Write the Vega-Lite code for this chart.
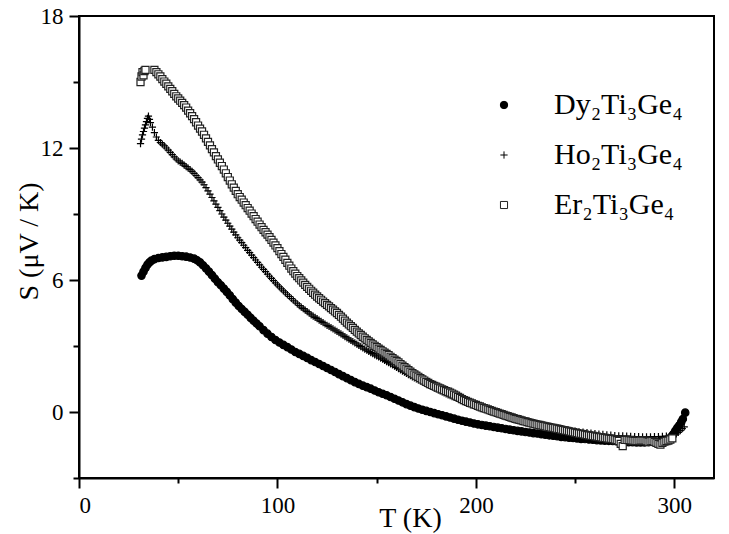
{
  "$schema": "https://vega.github.io/schema/vega-lite/v6.json",
  "width": 635,
  "height": 462,
  "autosize": {"type": "none"},
  "padding": {"left": 79, "top": 16, "right": 15, "bottom": 56},
  "background": "white",
  "config": {
    "view": {"stroke": "black", "strokeWidth": 2},
    "font": "Liberation Serif, Times New Roman, serif",
    "legend": {
      "orient": "none", "legendX": 410, "legendY": 74,
      "padding": 0, "rowPadding": 20, "labelOffset": 35, "symbolStrokeWidth": 1,
      "labelFont": "Liberation Serif, Times New Roman, serif", "labelFontSize": 30, "labelColor": "black"
    }
  },
  "data": {"values": [
    {"s":"Dy","T":31.5,"S":6.2},{"s":"Dy","T":32.5,"S":6.38},{"s":"Dy","T":33.5,"S":6.55},{"s":"Dy","T":34.5,"S":6.7},{"s":"Dy","T":35.5,"S":6.8},{"s":"Dy","T":36.5,"S":6.88},{"s":"Dy","T":38,"S":6.95},{"s":"Dy","T":40,"S":7.0},{"s":"Dy","T":42,"S":7.03},{"s":"Dy","T":44,"S":7.05},{"s":"Dy","T":46,"S":7.08},{"s":"Dy","T":48,"S":7.1},{"s":"Dy","T":50,"S":7.1},{"s":"Dy","T":52,"S":7.08},{"s":"Dy","T":54,"S":7.06},{"s":"Dy","T":56,"S":7.02},{"s":"Dy","T":58,"S":6.97},{"s":"Dy","T":59.5,"S":6.9},{"s":"Dy","T":61,"S":6.8},{"s":"Dy","T":62.5,"S":6.67},{"s":"Dy","T":64,"S":6.53},{"s":"Dy","T":65.5,"S":6.38},{"s":"Dy","T":67,"S":6.22},{"s":"Dy","T":68.5,"S":6.06},{"s":"Dy","T":70,"S":5.9},{"s":"Dy","T":71.5,"S":5.76},{"s":"Dy","T":73,"S":5.61},{"s":"Dy","T":74.5,"S":5.46},{"s":"Dy","T":76,"S":5.3},{"s":"Dy","T":77.5,"S":5.13},{"s":"Dy","T":79,"S":4.97},{"s":"Dy","T":80.5,"S":4.82},{"s":"Dy","T":82,"S":4.68},{"s":"Dy","T":83.5,"S":4.55},{"s":"Dy","T":85,"S":4.42},{"s":"Dy","T":86.5,"S":4.28},{"s":"Dy","T":88,"S":4.15},{"s":"Dy","T":89.5,"S":4.02},{"s":"Dy","T":91,"S":3.9},{"s":"Dy","T":93,"S":3.72},{"s":"Dy","T":95,"S":3.56},{"s":"Dy","T":97,"S":3.41},{"s":"Dy","T":99,"S":3.27},{"s":"Dy","T":101,"S":3.16},{"s":"Dy","T":103,"S":3.05},{"s":"Dy","T":105,"S":2.95},{"s":"Dy","T":107,"S":2.84},{"s":"Dy","T":109,"S":2.73},{"s":"Dy","T":111,"S":2.64},{"s":"Dy","T":113,"S":2.55},{"s":"Dy","T":115,"S":2.46},{"s":"Dy","T":117,"S":2.36},{"s":"Dy","T":119,"S":2.27},{"s":"Dy","T":121,"S":2.18},{"s":"Dy","T":123,"S":2.09},{"s":"Dy","T":125,"S":2.0},{"s":"Dy","T":127,"S":1.91},{"s":"Dy","T":129,"S":1.82},{"s":"Dy","T":131,"S":1.72},{"s":"Dy","T":133,"S":1.63},{"s":"Dy","T":135,"S":1.54},{"s":"Dy","T":137,"S":1.45},{"s":"Dy","T":139,"S":1.36},{"s":"Dy","T":141,"S":1.28},{"s":"Dy","T":143,"S":1.2},{"s":"Dy","T":145,"S":1.13},{"s":"Dy","T":147,"S":1.06},{"s":"Dy","T":149,"S":0.98},{"s":"Dy","T":151,"S":0.9},{"s":"Dy","T":153,"S":0.83},{"s":"Dy","T":155,"S":0.76},{"s":"Dy","T":157,"S":0.68},{"s":"Dy","T":159,"S":0.6},{"s":"Dy","T":161,"S":0.52},{"s":"Dy","T":163,"S":0.44},{"s":"Dy","T":165,"S":0.36},{"s":"Dy","T":167,"S":0.29},{"s":"Dy","T":169,"S":0.22},{"s":"Dy","T":171,"S":0.16},{"s":"Dy","T":173,"S":0.1},{"s":"Dy","T":175,"S":0.05},{"s":"Dy","T":177,"S":0.0},{"s":"Dy","T":179,"S":-0.05},{"s":"Dy","T":181,"S":-0.1},{"s":"Dy","T":183,"S":-0.15},{"s":"Dy","T":185,"S":-0.2},{"s":"Dy","T":187,"S":-0.25},{"s":"Dy","T":189,"S":-0.3},{"s":"Dy","T":191,"S":-0.35},{"s":"Dy","T":193,"S":-0.4},{"s":"Dy","T":195,"S":-0.44},{"s":"Dy","T":197,"S":-0.48},{"s":"Dy","T":199,"S":-0.52},{"s":"Dy","T":201,"S":-0.56},{"s":"Dy","T":203,"S":-0.59},{"s":"Dy","T":205,"S":-0.62},{"s":"Dy","T":207,"S":-0.65},{"s":"Dy","T":209,"S":-0.68},{"s":"Dy","T":211,"S":-0.71},{"s":"Dy","T":213,"S":-0.74},{"s":"Dy","T":215,"S":-0.77},{"s":"Dy","T":217,"S":-0.8},{"s":"Dy","T":219,"S":-0.83},{"s":"Dy","T":221,"S":-0.86},{"s":"Dy","T":223,"S":-0.88},{"s":"Dy","T":225,"S":-0.91},{"s":"Dy","T":227,"S":-0.93},{"s":"Dy","T":229,"S":-0.96},{"s":"Dy","T":231,"S":-0.98},{"s":"Dy","T":233,"S":-1.01},{"s":"Dy","T":235,"S":-1.03},{"s":"Dy","T":237,"S":-1.06},{"s":"Dy","T":239,"S":-1.08},{"s":"Dy","T":241,"S":-1.1},{"s":"Dy","T":243,"S":-1.13},{"s":"Dy","T":245,"S":-1.15},{"s":"Dy","T":247,"S":-1.17},{"s":"Dy","T":249,"S":-1.18},{"s":"Dy","T":251,"S":-1.2},{"s":"Dy","T":253,"S":-1.22},{"s":"Dy","T":255,"S":-1.23},{"s":"Dy","T":257,"S":-1.25},{"s":"Dy","T":259,"S":-1.26},{"s":"Dy","T":261,"S":-1.28},{"s":"Dy","T":263,"S":-1.29},{"s":"Dy","T":265,"S":-1.3},{"s":"Dy","T":267,"S":-1.31},{"s":"Dy","T":269,"S":-1.32},{"s":"Dy","T":271,"S":-1.33},{"s":"Dy","T":273,"S":-1.35},{"s":"Dy","T":275,"S":-1.36},{"s":"Dy","T":277,"S":-1.37},{"s":"Dy","T":279,"S":-1.37},{"s":"Dy","T":281,"S":-1.38},{"s":"Dy","T":283,"S":-1.38},{"s":"Dy","T":285,"S":-1.38},{"s":"Dy","T":287,"S":-1.37},{"s":"Dy","T":289,"S":-1.36},{"s":"Dy","T":291,"S":-1.35},{"s":"Dy","T":293,"S":-1.33},{"s":"Dy","T":295,"S":-1.29},{"s":"Dy","T":297,"S":-1.22},{"s":"Dy","T":298.5,"S":-1.12},{"s":"Dy","T":299.5,"S":-1.0},{"s":"Dy","T":300.5,"S":-0.85},{"s":"Dy","T":301.5,"S":-0.72},{"s":"Dy","T":302.5,"S":-0.6},{"s":"Dy","T":303.5,"S":-0.45},{"s":"Dy","T":304.3,"S":-0.32},{"s":"Dy","T":305.5,"S":-0.03},
    {"s":"Ho","T":31,"S":12.2},{"s":"Ho","T":31.5,"S":12.4},{"s":"Ho","T":32,"S":12.6},{"s":"Ho","T":32.5,"S":12.75},{"s":"Ho","T":33,"S":12.9},{"s":"Ho","T":33.5,"S":13.05},{"s":"Ho","T":34,"S":13.2},{"s":"Ho","T":34.5,"S":13.35},{"s":"Ho","T":35,"S":13.45},{"s":"Ho","T":35.5,"S":13.3},{"s":"Ho","T":36,"S":13.15},{"s":"Ho","T":37,"S":12.95},{"s":"Ho","T":38,"S":12.7},{"s":"Ho","T":39,"S":12.5},{"s":"Ho","T":40,"S":12.35},{"s":"Ho","T":41,"S":12.25},{"s":"Ho","T":42,"S":12.18},{"s":"Ho","T":43,"S":12.1},{"s":"Ho","T":44,"S":12.0},{"s":"Ho","T":45,"S":11.9},{"s":"Ho","T":46,"S":11.8},{"s":"Ho","T":47,"S":11.7},{"s":"Ho","T":48,"S":11.6},{"s":"Ho","T":49,"S":11.5},{"s":"Ho","T":50,"S":11.42},{"s":"Ho","T":51,"S":11.36},{"s":"Ho","T":52,"S":11.3},{"s":"Ho","T":53,"S":11.22},{"s":"Ho","T":54,"S":11.15},{"s":"Ho","T":55,"S":11.08},{"s":"Ho","T":56,"S":11.02},{"s":"Ho","T":57,"S":10.94},{"s":"Ho","T":58,"S":10.85},{"s":"Ho","T":59,"S":10.75},{"s":"Ho","T":60,"S":10.65},{"s":"Ho","T":61,"S":10.55},{"s":"Ho","T":62,"S":10.45},{"s":"Ho","T":63,"S":10.33},{"s":"Ho","T":64,"S":10.2},{"s":"Ho","T":65,"S":10.05},{"s":"Ho","T":66,"S":9.9},{"s":"Ho","T":67,"S":9.75},{"s":"Ho","T":68,"S":9.6},{"s":"Ho","T":69,"S":9.45},{"s":"Ho","T":70,"S":9.3},{"s":"Ho","T":71,"S":9.15},{"s":"Ho","T":72,"S":9.0},{"s":"Ho","T":73,"S":8.86},{"s":"Ho","T":74,"S":8.72},{"s":"Ho","T":75,"S":8.58},{"s":"Ho","T":76,"S":8.45},{"s":"Ho","T":77,"S":8.31},{"s":"Ho","T":78,"S":8.18},{"s":"Ho","T":79,"S":8.05},{"s":"Ho","T":80,"S":7.92},{"s":"Ho","T":81,"S":7.81},{"s":"Ho","T":82,"S":7.7},{"s":"Ho","T":83,"S":7.58},{"s":"Ho","T":84,"S":7.47},{"s":"Ho","T":85,"S":7.35},{"s":"Ho","T":86,"S":7.24},{"s":"Ho","T":87,"S":7.13},{"s":"Ho","T":88,"S":7.02},{"s":"Ho","T":89,"S":6.91},{"s":"Ho","T":90,"S":6.8},{"s":"Ho","T":91,"S":6.69},{"s":"Ho","T":92,"S":6.58},{"s":"Ho","T":93,"S":6.48},{"s":"Ho","T":94,"S":6.38},{"s":"Ho","T":95,"S":6.27},{"s":"Ho","T":96,"S":6.17},{"s":"Ho","T":97,"S":6.07},{"s":"Ho","T":98,"S":5.97},{"s":"Ho","T":99,"S":5.87},{"s":"Ho","T":100,"S":5.78},{"s":"Ho","T":101,"S":5.69},{"s":"Ho","T":102,"S":5.6},{"s":"Ho","T":103,"S":5.51},{"s":"Ho","T":104,"S":5.42},{"s":"Ho","T":105,"S":5.33},{"s":"Ho","T":106,"S":5.25},{"s":"Ho","T":107,"S":5.16},{"s":"Ho","T":108,"S":5.08},{"s":"Ho","T":109,"S":5.0},{"s":"Ho","T":110,"S":4.92},{"s":"Ho","T":111,"S":4.84},{"s":"Ho","T":112,"S":4.77},{"s":"Ho","T":113,"S":4.7},{"s":"Ho","T":114,"S":4.63},{"s":"Ho","T":115,"S":4.56},{"s":"Ho","T":116,"S":4.49},{"s":"Ho","T":117,"S":4.42},{"s":"Ho","T":118,"S":4.36},{"s":"Ho","T":119,"S":4.3},{"s":"Ho","T":120,"S":4.24},{"s":"Ho","T":121,"S":4.18},{"s":"Ho","T":122,"S":4.12},{"s":"Ho","T":123,"S":4.06},{"s":"Ho","T":124,"S":4.0},{"s":"Ho","T":125,"S":3.94},{"s":"Ho","T":126,"S":3.89},{"s":"Ho","T":127,"S":3.83},{"s":"Ho","T":128,"S":3.78},{"s":"Ho","T":129,"S":3.72},{"s":"Ho","T":130,"S":3.67},{"s":"Ho","T":131,"S":3.61},{"s":"Ho","T":132,"S":3.55},{"s":"Ho","T":133,"S":3.49},{"s":"Ho","T":134,"S":3.43},{"s":"Ho","T":135,"S":3.37},{"s":"Ho","T":136,"S":3.31},{"s":"Ho","T":137,"S":3.25},{"s":"Ho","T":138,"S":3.2},{"s":"Ho","T":139,"S":3.14},{"s":"Ho","T":140,"S":3.09},{"s":"Ho","T":141,"S":3.03},{"s":"Ho","T":142,"S":2.97},{"s":"Ho","T":143,"S":2.91},{"s":"Ho","T":144,"S":2.86},{"s":"Ho","T":145,"S":2.81},{"s":"Ho","T":146,"S":2.76},{"s":"Ho","T":147,"S":2.7},{"s":"Ho","T":148,"S":2.65},{"s":"Ho","T":149,"S":2.6},{"s":"Ho","T":150,"S":2.55},{"s":"Ho","T":151,"S":2.5},{"s":"Ho","T":152,"S":2.45},{"s":"Ho","T":153,"S":2.4},{"s":"Ho","T":154,"S":2.35},{"s":"Ho","T":155,"S":2.29},{"s":"Ho","T":156,"S":2.24},{"s":"Ho","T":157,"S":2.19},{"s":"Ho","T":158,"S":2.14},{"s":"Ho","T":159,"S":2.08},{"s":"Ho","T":160,"S":2.03},{"s":"Ho","T":161,"S":1.97},{"s":"Ho","T":162,"S":1.92},{"s":"Ho","T":163,"S":1.86},{"s":"Ho","T":164,"S":1.81},{"s":"Ho","T":165,"S":1.75},{"s":"Ho","T":166,"S":1.7},{"s":"Ho","T":167,"S":1.65},{"s":"Ho","T":168,"S":1.6},{"s":"Ho","T":169,"S":1.55},{"s":"Ho","T":170,"S":1.51},{"s":"Ho","T":171,"S":1.46},{"s":"Ho","T":172,"S":1.42},{"s":"Ho","T":173,"S":1.37},{"s":"Ho","T":174,"S":1.32},{"s":"Ho","T":175,"S":1.27},{"s":"Ho","T":176,"S":1.23},{"s":"Ho","T":177,"S":1.18},{"s":"Ho","T":178,"S":1.14},{"s":"Ho","T":179,"S":1.09},{"s":"Ho","T":180,"S":1.05},{"s":"Ho","T":181,"S":1.0},{"s":"Ho","T":182,"S":0.96},{"s":"Ho","T":183,"S":0.91},{"s":"Ho","T":184,"S":0.87},{"s":"Ho","T":185,"S":0.82},{"s":"Ho","T":186,"S":0.78},{"s":"Ho","T":187,"S":0.74},{"s":"Ho","T":188,"S":0.7},{"s":"Ho","T":189,"S":0.67},{"s":"Ho","T":190,"S":0.64},{"s":"Ho","T":191,"S":0.61},{"s":"Ho","T":192,"S":0.58},{"s":"Ho","T":193,"S":0.55},{"s":"Ho","T":194,"S":0.52},{"s":"Ho","T":195,"S":0.49},{"s":"Ho","T":196,"S":0.46},{"s":"Ho","T":197,"S":0.43},{"s":"Ho","T":198,"S":0.4},{"s":"Ho","T":200,"S":0.33},{"s":"Ho","T":202,"S":0.26},{"s":"Ho","T":204,"S":0.19},{"s":"Ho","T":206,"S":0.12},{"s":"Ho","T":208,"S":0.05},{"s":"Ho","T":210,"S":-0.02},{"s":"Ho","T":212,"S":-0.08},{"s":"Ho","T":214,"S":-0.14},{"s":"Ho","T":216,"S":-0.2},{"s":"Ho","T":218,"S":-0.25},{"s":"Ho","T":220,"S":-0.3},{"s":"Ho","T":222,"S":-0.35},{"s":"Ho","T":224,"S":-0.4},{"s":"Ho","T":226,"S":-0.45},{"s":"Ho","T":228,"S":-0.5},{"s":"Ho","T":230,"S":-0.54},{"s":"Ho","T":232,"S":-0.58},{"s":"Ho","T":234,"S":-0.62},{"s":"Ho","T":236,"S":-0.66},{"s":"Ho","T":238,"S":-0.7},{"s":"Ho","T":240,"S":-0.73},{"s":"Ho","T":242,"S":-0.76},{"s":"Ho","T":244,"S":-0.79},{"s":"Ho","T":246,"S":-0.82},{"s":"Ho","T":248,"S":-0.85},{"s":"Ho","T":250,"S":-0.87},{"s":"Ho","T":252,"S":-0.9},{"s":"Ho","T":254,"S":-0.92},{"s":"Ho","T":256,"S":-0.94},{"s":"Ho","T":258,"S":-0.96},{"s":"Ho","T":260,"S":-0.98},{"s":"Ho","T":262,"S":-1.0},{"s":"Ho","T":264,"S":-1.02},{"s":"Ho","T":266,"S":-1.04},{"s":"Ho","T":268,"S":-1.05},{"s":"Ho","T":270,"S":-1.07},{"s":"Ho","T":272,"S":-1.08},{"s":"Ho","T":274,"S":-1.09},{"s":"Ho","T":276,"S":-1.1},{"s":"Ho","T":278,"S":-1.11},{"s":"Ho","T":280,"S":-1.12},{"s":"Ho","T":282,"S":-1.12},{"s":"Ho","T":284,"S":-1.13},{"s":"Ho","T":286,"S":-1.13},{"s":"Ho","T":288,"S":-1.13},{"s":"Ho","T":290,"S":-1.12},{"s":"Ho","T":292,"S":-1.12},{"s":"Ho","T":294,"S":-1.11},{"s":"Ho","T":296,"S":-1.1},{"s":"Ho","T":298,"S":-1.08},{"s":"Ho","T":300,"S":-1.04},{"s":"Ho","T":301,"S":-1.0},{"s":"Ho","T":302,"S":-0.93},{"s":"Ho","T":303,"S":-0.85},{"s":"Ho","T":304,"S":-0.76},{"s":"Ho","T":305,"S":-0.68},
    {"s":"Er","T":31,"S":15.0},{"s":"Er","T":31.5,"S":15.25},{"s":"Er","T":32,"S":15.45},{"s":"Er","T":32.5,"S":15.3},{"s":"Er","T":33,"S":15.5},{"s":"Er","T":33.5,"S":15.55},{"s":"Er","T":38,"S":15.55},{"s":"Er","T":39,"S":15.45},{"s":"Er","T":40,"S":15.35},{"s":"Er","T":41,"S":15.25},{"s":"Er","T":42,"S":15.13},{"s":"Er","T":43,"S":15.02},{"s":"Er","T":44,"S":14.92},{"s":"Er","T":45,"S":14.8},{"s":"Er","T":46,"S":14.69},{"s":"Er","T":47,"S":14.58},{"s":"Er","T":48,"S":14.46},{"s":"Er","T":49,"S":14.35},{"s":"Er","T":50,"S":14.25},{"s":"Er","T":51,"S":14.15},{"s":"Er","T":52,"S":14.05},{"s":"Er","T":53,"S":13.95},{"s":"Er","T":54,"S":13.84},{"s":"Er","T":55,"S":13.7},{"s":"Er","T":56,"S":13.58},{"s":"Er","T":57,"S":13.45},{"s":"Er","T":58,"S":13.31},{"s":"Er","T":59,"S":13.17},{"s":"Er","T":60,"S":13.02},{"s":"Er","T":61,"S":12.88},{"s":"Er","T":62,"S":12.75},{"s":"Er","T":63,"S":12.6},{"s":"Er","T":64,"S":12.44},{"s":"Er","T":65,"S":12.28},{"s":"Er","T":66,"S":12.12},{"s":"Er","T":67,"S":11.95},{"s":"Er","T":68,"S":11.8},{"s":"Er","T":69,"S":11.63},{"s":"Er","T":70,"S":11.48},{"s":"Er","T":71,"S":11.33},{"s":"Er","T":72,"S":11.18},{"s":"Er","T":73,"S":11.02},{"s":"Er","T":74,"S":10.85},{"s":"Er","T":75,"S":10.68},{"s":"Er","T":76,"S":10.52},{"s":"Er","T":77,"S":10.35},{"s":"Er","T":78,"S":10.2},{"s":"Er","T":79,"S":10.05},{"s":"Er","T":80,"S":9.9},{"s":"Er","T":81,"S":9.77},{"s":"Er","T":82,"S":9.65},{"s":"Er","T":83,"S":9.52},{"s":"Er","T":84,"S":9.4},{"s":"Er","T":85,"S":9.27},{"s":"Er","T":86,"S":9.15},{"s":"Er","T":87,"S":9.02},{"s":"Er","T":88,"S":8.9},{"s":"Er","T":89,"S":8.77},{"s":"Er","T":90,"S":8.65},{"s":"Er","T":91,"S":8.52},{"s":"Er","T":92,"S":8.4},{"s":"Er","T":93,"S":8.28},{"s":"Er","T":94,"S":8.17},{"s":"Er","T":95,"S":8.06},{"s":"Er","T":96,"S":7.95},{"s":"Er","T":97,"S":7.82},{"s":"Er","T":98,"S":7.7},{"s":"Er","T":99,"S":7.57},{"s":"Er","T":100,"S":7.45},{"s":"Er","T":101,"S":7.31},{"s":"Er","T":102,"S":7.18},{"s":"Er","T":103,"S":7.05},{"s":"Er","T":104,"S":6.92},{"s":"Er","T":105,"S":6.78},{"s":"Er","T":106,"S":6.65},{"s":"Er","T":107,"S":6.52},{"s":"Er","T":108,"S":6.4},{"s":"Er","T":109,"S":6.29},{"s":"Er","T":110,"S":6.18},{"s":"Er","T":111,"S":6.08},{"s":"Er","T":112,"S":5.98},{"s":"Er","T":113,"S":5.88},{"s":"Er","T":114,"S":5.78},{"s":"Er","T":115,"S":5.69},{"s":"Er","T":116,"S":5.6},{"s":"Er","T":117,"S":5.51},{"s":"Er","T":118,"S":5.42},{"s":"Er","T":119,"S":5.33},{"s":"Er","T":120,"S":5.25},{"s":"Er","T":121,"S":5.17},{"s":"Er","T":122,"S":5.1},{"s":"Er","T":123,"S":5.02},{"s":"Er","T":124,"S":4.95},{"s":"Er","T":125,"S":4.87},{"s":"Er","T":126,"S":4.8},{"s":"Er","T":127,"S":4.72},{"s":"Er","T":128,"S":4.65},{"s":"Er","T":129,"S":4.57},{"s":"Er","T":130,"S":4.5},{"s":"Er","T":131,"S":4.41},{"s":"Er","T":132,"S":4.33},{"s":"Er","T":133,"S":4.24},{"s":"Er","T":134,"S":4.15},{"s":"Er","T":135,"S":4.06},{"s":"Er","T":136,"S":3.98},{"s":"Er","T":137,"S":3.9},{"s":"Er","T":138,"S":3.82},{"s":"Er","T":139,"S":3.73},{"s":"Er","T":140,"S":3.65},{"s":"Er","T":141,"S":3.57},{"s":"Er","T":142,"S":3.5},{"s":"Er","T":143,"S":3.42},{"s":"Er","T":144,"S":3.35},{"s":"Er","T":145,"S":3.28},{"s":"Er","T":146,"S":3.21},{"s":"Er","T":147,"S":3.14},{"s":"Er","T":148,"S":3.07},{"s":"Er","T":149,"S":3.01},{"s":"Er","T":150,"S":2.95},{"s":"Er","T":151,"S":2.88},{"s":"Er","T":152,"S":2.82},{"s":"Er","T":153,"S":2.76},{"s":"Er","T":154,"S":2.7},{"s":"Er","T":155,"S":2.64},{"s":"Er","T":156,"S":2.58},{"s":"Er","T":157,"S":2.51},{"s":"Er","T":158,"S":2.45},{"s":"Er","T":159,"S":2.38},{"s":"Er","T":160,"S":2.32},{"s":"Er","T":161,"S":2.25},{"s":"Er","T":162,"S":2.18},{"s":"Er","T":163,"S":2.11},{"s":"Er","T":164,"S":2.04},{"s":"Er","T":165,"S":1.97},{"s":"Er","T":166,"S":1.9},{"s":"Er","T":167,"S":1.83},{"s":"Er","T":168,"S":1.77},{"s":"Er","T":169,"S":1.71},{"s":"Er","T":170,"S":1.65},{"s":"Er","T":171,"S":1.6},{"s":"Er","T":172,"S":1.54},{"s":"Er","T":173,"S":1.48},{"s":"Er","T":174,"S":1.43},{"s":"Er","T":175,"S":1.37},{"s":"Er","T":176,"S":1.32},{"s":"Er","T":177,"S":1.27},{"s":"Er","T":178,"S":1.23},{"s":"Er","T":179,"S":1.19},{"s":"Er","T":180,"S":1.15},{"s":"Er","T":181,"S":1.11},{"s":"Er","T":182,"S":1.07},{"s":"Er","T":183,"S":1.03},{"s":"Er","T":184,"S":0.99},{"s":"Er","T":185,"S":0.95},{"s":"Er","T":186,"S":0.92},{"s":"Er","T":187,"S":0.88},{"s":"Er","T":188,"S":0.84},{"s":"Er","T":189,"S":0.79},{"s":"Er","T":190,"S":0.74},{"s":"Er","T":191,"S":0.69},{"s":"Er","T":192,"S":0.64},{"s":"Er","T":193,"S":0.59},{"s":"Er","T":194,"S":0.54},{"s":"Er","T":195,"S":0.5},{"s":"Er","T":196,"S":0.46},{"s":"Er","T":197,"S":0.42},{"s":"Er","T":198,"S":0.39},{"s":"Er","T":199,"S":0.35},{"s":"Er","T":200,"S":0.32},{"s":"Er","T":201,"S":0.28},{"s":"Er","T":202,"S":0.25},{"s":"Er","T":203,"S":0.21},{"s":"Er","T":204,"S":0.18},{"s":"Er","T":205,"S":0.15},{"s":"Er","T":206,"S":0.12},{"s":"Er","T":207,"S":0.08},{"s":"Er","T":208,"S":0.05},{"s":"Er","T":209,"S":0.02},{"s":"Er","T":210,"S":-0.01},{"s":"Er","T":211,"S":-0.04},{"s":"Er","T":212,"S":-0.07},{"s":"Er","T":213,"S":-0.1},{"s":"Er","T":214,"S":-0.13},{"s":"Er","T":215,"S":-0.16},{"s":"Er","T":216,"S":-0.19},{"s":"Er","T":217,"S":-0.22},{"s":"Er","T":218,"S":-0.25},{"s":"Er","T":219,"S":-0.28},{"s":"Er","T":220,"S":-0.31},{"s":"Er","T":221,"S":-0.33},{"s":"Er","T":222,"S":-0.36},{"s":"Er","T":223,"S":-0.38},{"s":"Er","T":224,"S":-0.41},{"s":"Er","T":225,"S":-0.43},{"s":"Er","T":226,"S":-0.46},{"s":"Er","T":227,"S":-0.48},{"s":"Er","T":228,"S":-0.51},{"s":"Er","T":229,"S":-0.53},{"s":"Er","T":230,"S":-0.55},{"s":"Er","T":231,"S":-0.57},{"s":"Er","T":232,"S":-0.59},{"s":"Er","T":233,"S":-0.61},{"s":"Er","T":234,"S":-0.63},{"s":"Er","T":235,"S":-0.65},{"s":"Er","T":236,"S":-0.67},{"s":"Er","T":237,"S":-0.69},{"s":"Er","T":238,"S":-0.71},{"s":"Er","T":239,"S":-0.72},{"s":"Er","T":240,"S":-0.74},{"s":"Er","T":241,"S":-0.76},{"s":"Er","T":242,"S":-0.78},{"s":"Er","T":243,"S":-0.8},{"s":"Er","T":244,"S":-0.82},{"s":"Er","T":245,"S":-0.84},{"s":"Er","T":246,"S":-0.86},{"s":"Er","T":247,"S":-0.88},{"s":"Er","T":248,"S":-0.9},{"s":"Er","T":249,"S":-0.92},{"s":"Er","T":250,"S":-0.94},{"s":"Er","T":251,"S":-0.96},{"s":"Er","T":252,"S":-0.98},{"s":"Er","T":253,"S":-0.99},{"s":"Er","T":254,"S":-1.01},{"s":"Er","T":255,"S":-1.03},{"s":"Er","T":256,"S":-1.05},{"s":"Er","T":257,"S":-1.06},{"s":"Er","T":258,"S":-1.08},{"s":"Er","T":259,"S":-1.09},{"s":"Er","T":260,"S":-1.11},{"s":"Er","T":261,"S":-1.12},{"s":"Er","T":262,"S":-1.14},{"s":"Er","T":263,"S":-1.15},{"s":"Er","T":264,"S":-1.17},{"s":"Er","T":265,"S":-1.18},{"s":"Er","T":266,"S":-1.2},{"s":"Er","T":267,"S":-1.21},{"s":"Er","T":268,"S":-1.22},{"s":"Er","T":269,"S":-1.23},{"s":"Er","T":270,"S":-1.25},{"s":"Er","T":271,"S":-1.28},{"s":"Er","T":272,"S":-1.32},{"s":"Er","T":273,"S":-1.45},{"s":"Er","T":274,"S":-1.55},{"s":"Er","T":275,"S":-1.27},{"s":"Er","T":276,"S":-1.27},{"s":"Er","T":277,"S":-1.28},{"s":"Er","T":278,"S":-1.29},{"s":"Er","T":279,"S":-1.3},{"s":"Er","T":280,"S":-1.31},{"s":"Er","T":281,"S":-1.32},{"s":"Er","T":282,"S":-1.31},{"s":"Er","T":283,"S":-1.3},{"s":"Er","T":284,"S":-1.3},{"s":"Er","T":285,"S":-1.3},{"s":"Er","T":286,"S":-1.33},{"s":"Er","T":287,"S":-1.35},{"s":"Er","T":288,"S":-1.33},{"s":"Er","T":289,"S":-1.32},{"s":"Er","T":290,"S":-1.36},{"s":"Er","T":291,"S":-1.4},{"s":"Er","T":292,"S":-1.45},{"s":"Er","T":293,"S":-1.48},{"s":"Er","T":294,"S":-1.4},{"s":"Er","T":295,"S":-1.35},{"s":"Er","T":296,"S":-1.32},{"s":"Er","T":297,"S":-1.3},{"s":"Er","T":298,"S":-1.25},{"s":"Er","T":299,"S":-1.2}
  ]},
  "mark": {"type": "point", "opacity": 1, "strokeWidth": 1.2},
  "encoding": {
    "x": {
      "field": "T", "type": "quantitative",
      "scale": {"domain": [0, 320], "nice": false, "zero": false},
      "axis": {
        "title": "T (K)",
        "values": [0, 50, 100, 150, 200, 250, 300],
        "labelExpr": "datum.value % 100 === 0 ? datum.label : ''",
        "grid": false,
        "domainColor": "black", "domainWidth": 2,
        "tickColor": "black", "tickWidth": 2,
        "tickSize": {"condition": {"test": "datum.value % 100 === 0", "value": 10}, "value": 5},
        "labelFont": "Liberation Serif, Times New Roman, serif", "labelFontSize": 23, "labelColor": "black", "labelPadding": 6,
        "titleFont": "Liberation Serif, Times New Roman, serif", "titleFontSize": 28, "titleFontWeight": "normal", "titleColor": "black",
        "titleX": 331, "titleY": 48, "titleAlign": "center", "titleBaseline": "alphabetic"
      }
    },
    "y": {
      "field": "S", "type": "quantitative",
      "scale": {"domain": [-3, 18], "nice": false, "zero": false},
      "axis": {
        "title": "S (μV / K)",
        "values": [-3, 0, 3, 6, 9, 12, 15, 18],
        "labelExpr": "datum.value % 6 === 0 ? datum.label : ''",
        "grid": false,
        "domainColor": "black", "domainWidth": 2,
        "tickColor": "black", "tickWidth": 2,
        "tickSize": {"condition": {"test": "datum.value % 6 === 0", "value": 10}, "value": 6},
        "labelFont": "Liberation Serif, Times New Roman, serif", "labelFontSize": 23, "labelColor": "black", "labelPadding": 6,
        "titleFont": "Liberation Serif, Times New Roman, serif", "titleFontSize": 28, "titleFontWeight": "normal", "titleColor": "black",
        "titleAngle": 270, "titleX": -42, "titleY": 225, "titleAlign": "center", "titleBaseline": "alphabetic"
      }
    },
    "size": {
      "field": "s", "type": "nominal",
      "scale": {"domain": ["Dy", "Ho", "Er"], "range": [55, 50, 45]},
      "legend": {"title": null, "labelExpr": "datum.label === 'Dy' ? 'Dy₂Ti₃Ge₄' : datum.label === 'Ho' ? 'Ho₂Ti₃Ge₄' : 'Er₂Ti₃Ge₄'"}
    },
    "shape": {
      "field": "s", "type": "nominal",
      "scale": {"domain": ["Dy", "Ho", "Er"], "range": ["circle", "M-1,0H1M0,-1V1", "square"]},
      "legend": {"title": null, "labelExpr": "datum.label === 'Dy' ? 'Dy₂Ti₃Ge₄' : datum.label === 'Ho' ? 'Ho₂Ti₃Ge₄' : 'Er₂Ti₃Ge₄'"}
    },
    "fill": {
      "field": "s", "type": "nominal",
      "scale": {"domain": ["Dy", "Ho", "Er"], "range": ["black", "white", "white"]},
      "legend": {"title": null, "labelExpr": "datum.label === 'Dy' ? 'Dy₂Ti₃Ge₄' : datum.label === 'Ho' ? 'Ho₂Ti₃Ge₄' : 'Er₂Ti₃Ge₄'"}
    },
    "stroke": {
      "field": "s", "type": "nominal",
      "scale": {"domain": ["Dy", "Ho", "Er"], "range": ["black", "black", "#222222"]},
      "legend": {"title": null, "labelExpr": "datum.label === 'Dy' ? 'Dy₂Ti₃Ge₄' : datum.label === 'Ho' ? 'Ho₂Ti₃Ge₄' : 'Er₂Ti₃Ge₄'"}
    }
  }
}
